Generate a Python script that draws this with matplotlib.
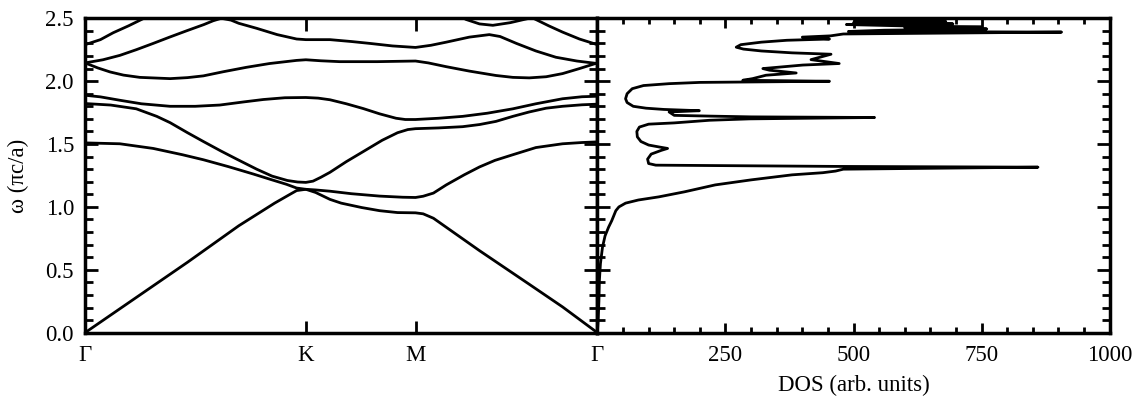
import matplotlib
matplotlib.use("Agg")
import matplotlib.pyplot as plt
from matplotlib.ticker import MultipleLocator, FormatStrFormatter

plt.rcParams['font.family'] = ['Liberation Serif', 'DejaVu Serif']
plt.rcParams['font.size'] = 16.5

# k-path tick positions (fraction of path) and labels
k_ticks = [0.0, 0.431, 0.645, 1.0]
k_labels = ['Γ', 'K', 'M', 'Γ']

# band structure (k, omega in pi c/a)
b1_k = [0, 0.1, 0.2, 0.3, 0.37, 0.40, 0.413, 0.431, 0.45, 0.478, 0.50, 0.54, 0.575, 0.61, 0.645, 0.66, 0.68, 0.77, 0.867, 0.932, 1.0]
b1_w = [0, 0.28, 0.56, 0.85, 1.03, 1.10, 1.13, 1.14, 1.115, 1.06, 1.03, 0.995, 0.97, 0.955, 0.953, 0.945, 0.91, 0.652, 0.385, 0.205, 0.0]

b2_k = [0, 0.068, 0.133, 0.19, 0.231, 0.28, 0.328, 0.365, 0.393, 0.413, 0.431, 0.45, 0.478, 0.52, 0.575, 0.62, 0.645,
        0.66, 0.68, 0.705, 0.74, 0.77, 0.80, 0.835, 0.88, 0.932, 0.97, 1.0]
b2_w = [1.509, 1.502, 1.465, 1.415, 1.375, 1.32, 1.262, 1.215, 1.18, 1.15, 1.14, 1.135, 1.125, 1.105, 1.086, 1.077, 1.075,
        1.085, 1.11, 1.175, 1.255, 1.318, 1.37, 1.415, 1.472, 1.502, 1.512, 1.517]

b3_k = [0, 0.05, 0.10, 0.14, 0.166, 0.2, 0.231, 0.265, 0.296, 0.335, 0.365, 0.395, 0.415, 0.431, 0.445, 0.46, 0.478,
        0.51, 0.543, 0.58, 0.61, 0.63, 0.645, 0.69, 0.737, 0.77, 0.802, 0.835, 0.867, 0.90, 0.932, 0.97, 1.0]
b3_w = [1.822, 1.81, 1.78, 1.72, 1.67, 1.59, 1.52, 1.445, 1.38, 1.30, 1.245, 1.21, 1.198, 1.195, 1.205, 1.235, 1.275,
        1.36, 1.44, 1.53, 1.59, 1.615, 1.622, 1.628, 1.638, 1.655, 1.68, 1.72, 1.755, 1.785, 1.80, 1.812, 1.817]

b4_k = [0, 0.03, 0.068, 0.11, 0.166, 0.215, 0.263, 0.31, 0.348, 0.39, 0.431, 0.455, 0.478, 0.51, 0.543, 0.575, 0.607,
        0.625, 0.645, 0.69, 0.737, 0.785, 0.835, 0.88, 0.932, 0.97, 1.0]
b4_w = [1.888, 1.875, 1.848, 1.82, 1.80, 1.80, 1.81, 1.835, 1.854, 1.868, 1.87, 1.865, 1.852, 1.82, 1.782, 1.74, 1.705,
        1.695, 1.695, 1.705, 1.72, 1.745, 1.78, 1.82, 1.86, 1.876, 1.88]

b5_k = [0, 0.025, 0.049, 0.075, 0.107, 0.166, 0.2, 0.231, 0.27, 0.315, 0.36, 0.413, 0.431, 0.46, 0.497, 0.57, 0.645,
        0.67, 0.705, 0.75, 0.802, 0.835, 0.867, 0.9, 0.932, 0.965, 1.0]
b5_w = [2.145, 2.105, 2.073, 2.048, 2.03, 2.02, 2.028, 2.042, 2.075, 2.11, 2.14, 2.165, 2.17, 2.162, 2.155, 2.155, 2.16,
        2.145, 2.115, 2.08, 2.045, 2.03, 2.026, 2.035, 2.06, 2.1, 2.145]

b6_k = [0, 0.035, 0.068, 0.10, 0.133, 0.165, 0.198, 0.232, 0.25, 0.266, 0.285, 0.3, 0.335, 0.375, 0.413, 0.431, 0.478,
        0.52, 0.556, 0.6, 0.645, 0.675, 0.705, 0.75, 0.789, 0.81, 0.842, 0.88, 0.919, 0.96, 1.0]
b6_w = [2.145, 2.17, 2.205, 2.25, 2.30, 2.35, 2.40, 2.45, 2.48, 2.50, 2.485, 2.46, 2.42, 2.37, 2.335, 2.33, 2.33,
        2.315, 2.30, 2.28, 2.268, 2.285, 2.31, 2.35, 2.37, 2.355, 2.30, 2.24, 2.19, 2.16, 2.14]

b7_k = [0, 0.03, 0.055, 0.085, 0.11, 0.13]
b7_w = [2.29, 2.33, 2.385, 2.44, 2.49, 2.53]

b8_k = [0.855, 0.88, 0.905, 0.932, 0.965, 1.0]
b8_w = [2.54, 2.49, 2.44, 2.39, 2.335, 2.29]

b9_k = [0.72, 0.744, 0.77, 0.796, 0.83, 0.867, 0.89]
b9_w = [2.54, 2.49, 2.455, 2.444, 2.465, 2.50, 2.54]

bands = [(b1_k, b1_w), (b2_k, b2_w), (b3_k, b3_w), (b4_k, b4_w), (b5_k, b5_w),
         (b6_k, b6_w), (b7_k, b7_w), (b8_k, b8_w), (b9_k, b9_w)]

# density of states (arb. units) against omega
dos_w = [0.0, 0.1, 0.25, 0.42, 0.55, 0.68, 0.77, 0.84, 0.89, 0.93, 0.97, 1.0, 1.03, 1.055, 1.08, 1.12, 1.175, 1.215,
         1.255, 1.272, 1.285, 1.30, 1.316, 1.322, 1.332, 1.345, 1.38, 1.42, 1.45, 1.465, 1.477, 1.492, 1.52, 1.557,
         1.60, 1.635, 1.658, 1.668, 1.689, 1.70, 1.711, 1.716, 1.722, 1.728, 1.755, 1.765, 1.775, 1.785, 1.80, 1.83,
         1.86, 1.90, 1.94, 1.965, 1.98, 1.99, 1.999, 2.007, 2.02, 2.047, 2.065, 2.087, 2.10, 2.128, 2.14, 2.171,
         2.214, 2.225, 2.24, 2.255, 2.27, 2.29, 2.31, 2.325, 2.335, 2.35, 2.36, 2.375, 2.39, 2.395, 2.405, 2.415,
         2.425, 2.43, 2.44, 2.45, 2.455, 2.465, 2.475, 2.485, 2.49, 2.5, 2.52]
dos_v = [0, 1.5, 3, 4, 6, 10, 15, 22, 28, 32, 36, 42, 55, 80, 120, 170, 230, 300,
         380, 440, 465, 480, 860, 470, 114, 100, 98, 105, 125, 137, 120, 100, 85, 78,
         77, 82, 100, 150, 219, 297, 541, 300, 220, 150, 140, 199, 130, 95, 70, 58,
         55, 58, 68, 90, 140, 200, 453, 284, 303, 329, 388, 336, 323, 401, 472, 417,
         456, 380, 320, 285, 271, 280, 320, 370, 453, 400, 455, 480, 906, 490, 560, 760,
         600, 750, 590, 486, 694, 500, 680, 505, 600, 520, 540]

fig, (ax1, ax2) = plt.subplots(1, 2, figsize=(11.37, 3.97), dpi=100)
fig.subplots_adjust(left=0.0748, right=0.976, top=0.954, bottom=0.162, wspace=0)

for k, w in bands:
    ax1.plot(k, w, color='black', lw=2.0, solid_joinstyle='round', solid_capstyle='round')

ax1.set_xlim(0, 1)
ax1.set_ylim(0, 2.5)
ax1.set_xticks(k_ticks)
ax1.set_xticklabels(k_labels)
ax1.yaxis.set_major_locator(MultipleLocator(0.5))
ax1.yaxis.set_minor_locator(MultipleLocator(0.1))
ax1.yaxis.set_major_formatter(FormatStrFormatter('%.1f'))
ax1.tick_params(axis='x', direction='in', top=True, length=9, width=2, pad=9)
ax1.tick_params(axis='y', which='major', direction='in', left=True, right=True, length=9.5, width=2, pad=8)
ax1.tick_params(axis='y', which='minor', direction='in', left=True, right=True, length=5.5, width=2)
ax1.set_ylabel('ω (πc/a)', labelpad=12)

ax2.plot(dos_v, dos_w, color='black', lw=2.0, solid_joinstyle='round', solid_capstyle='round')
ax2.set_xlim(0, 1000)
ax2.set_ylim(0, 2.5)
ax2.set_xticks([250, 500, 750, 1000])
ax2.xaxis.set_minor_locator(MultipleLocator(50))
ax2.yaxis.set_major_locator(MultipleLocator(0.5))
ax2.yaxis.set_minor_locator(MultipleLocator(0.1))
ax2.set_yticklabels([])
ax2.tick_params(axis='x', which='major', direction='in', top=True, length=7.5, width=2, pad=9)
ax2.tick_params(axis='x', which='minor', direction='in', top=True, length=4.5, width=2)
ax2.tick_params(axis='y', which='major', direction='in', left=True, right=True, length=9.5, width=2)
ax2.tick_params(axis='y', which='minor', direction='in', left=True, right=True, length=5.5, width=2)
ax2.set_xlabel('DOS (arb. units)', labelpad=6)

for ax in (ax1, ax2):
    for s in ax.spines.values():
        s.set_linewidth(2.5)

fig.savefig('out.png', dpi=100)
